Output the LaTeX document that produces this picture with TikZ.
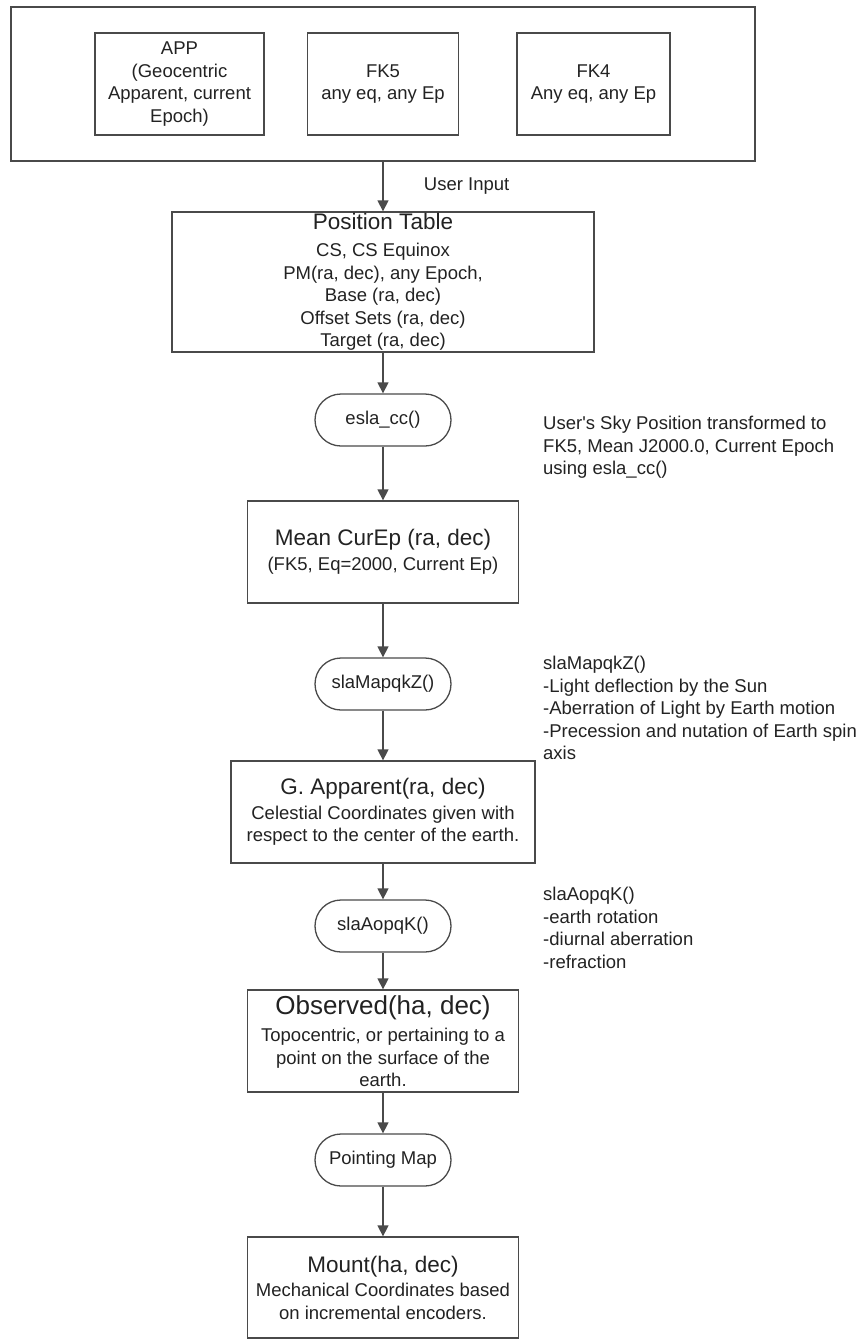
\documentclass[tikz,border=0pt]{standalone}
\usepackage{fontspec}
\setmainfont{Liberation Sans}
\usetikzlibrary{arrows.meta,positioning}
\definecolor{linegray}{HTML}{4A4A4A}
\definecolor{inkgray}{HTML}{222222}
\newcommand\bodyfont{\fontsize{18.5}{22.5}\selectfont}
\newcommand\hdfont{\fontsize{22.5}{27}\selectfont}
\newcommand\bighdfont{\fontsize{26}{30}\selectfont}
\tikzset{
  >={Triangle[length=11pt,width=11pt]},
  flowbox/.style ={draw=linegray, line width=1.3pt, align=center, inner sep=0pt,
                   text=inkgray, font=\bodyfont},
  callbox/.style ={flowbox, rounded corners=26pt, minimum width=136, minimum height=52},
}

\begin{document}
\begin{tikzpicture}[x=1pt, y=-1pt,
  flow/.style={->, line width=1.3pt, draw=linegray},
  note/.style={align=left, inner sep=0pt, text=inkgray, font=\bodyfont, anchor=north west}
]
\useasboundingbox (0,0) rectangle (867,1342);

%--- user input frame with the three systems ---
\node[flowbox, minimum width=744, minimum height=154] (input) at (383,84) {};
\node[flowbox, minimum width=169, minimum height=102] (app) at (179.5,84)
  {APP\\(Geocentric\\Apparent, current\\Epoch)};
\node[flowbox, minimum width=151, minimum height=102] (fkfive) at (383,84)
  {FK5\\any eq, any Ep};
\node[flowbox, minimum width=153, minimum height=102] (fkfour) at (593.5,84)
  {FK4\\Any eq, any Ep};

%--- main chain ---
\node[flowbox, minimum width=422, minimum height=140] (ptable) at (383,282)
  {{\hdfont Position Table}\\[4.5pt]CS, CS Equinox\\PM(ra, dec), any Epoch,\\
   Base (ra, dec)\\Offset Sets (ra, dec)\\Target (ra, dec)};
\node[callbox] (eslacc) at (383,420) {esla\_cc()};
\node[flowbox, minimum width=271, minimum height=102] (meancur) at (383,552)
  {{\hdfont Mean CurEp (ra, dec)}\\[2pt](FK5, Eq=2000, Current Ep)};
\node[callbox] (mapqk) at (383,684) {slaMapqkZ()};
\node[flowbox, minimum width=304, minimum height=102] (gapp) at (383,812)
  {{\hdfont G. Apparent(ra, dec)}\\[2pt]Celestial Coordinates given with\\
   respect to the center of the earth.};
\node[callbox] (aopqk) at (383,926) {slaAopqK()};
\node[flowbox, minimum width=271, minimum height=102] (obs) at (383,1041)
  {{\bighdfont Observed(ha, dec)}\\[5pt]Topocentric, or pertaining to a\\
   point on the surface of the\\earth.};
\node[callbox] (pmap) at (383,1160) {Pointing Map};
\node[flowbox, minimum width=271, minimum height=101] (mount) at (383,1287.5)
  {{\hdfont Mount(ha, dec)}\\[2pt]Mechanical Coordinates based\\on incremental encoders.};

%--- connectors ---
\draw[flow] (input) -- (ptable) node[midway, right=37pt, text=inkgray, font=\bodyfont] (userin) {User Input};
\draw[flow] (ptable) -- (eslacc);
\draw[flow] (eslacc) -- (meancur);
\draw[flow] (meancur) -- (mapqk);
\draw[flow] (mapqk) -- (gapp);
\draw[flow] (gapp) -- (aopqk);
\draw[flow] (aopqk) -- (obs);
\draw[flow] (obs) -- (pmap);
\draw[flow] (pmap) -- (mount);

%--- side notes ---
\node[note] (eslanote) at (543,416)
  {User\textquotesingle s Sky Position transformed to\\FK5, Mean J2000.0, Current Epoch\\using esla\_cc()};
\node[note] (mapqknote) at (543,656)
  {slaMapqkZ()\\-Light deflection by the Sun\\-Aberration of Light by Earth motion\\
   -Precession and nutation of Earth spin\\axis};
\node[note] (aopqknote) at (543,887)
  {slaAopqK()\\-earth rotation\\-diurnal aberration\\-refraction};

\end{tikzpicture}
\end{document}
